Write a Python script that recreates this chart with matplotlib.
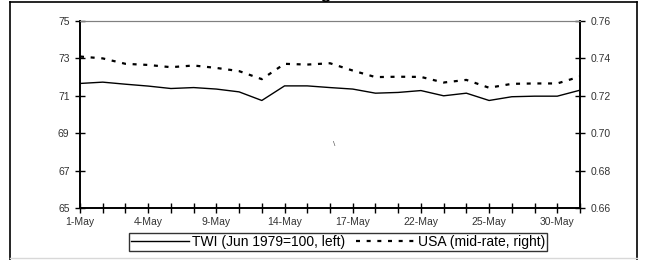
import matplotlib
matplotlib.use('Agg')
import matplotlib.pyplot as plt
from matplotlib.lines import Line2D

plt.rcParams['font.family'] = ['Liberation Sans', 'DejaVu Sans']

days = [1, 2, 3, 4, 7, 8, 9, 10, 11, 14, 15, 16, 17, 18, 21, 22, 23, 24, 25, 28, 29, 30, 31]
twi = [71.66, 71.73, 71.62, 71.52, 71.39, 71.44, 71.36, 71.21, 70.75, 71.53, 71.53, 71.44,
       71.36, 71.14, 71.18, 71.28, 71.00, 71.14, 70.75, 70.95, 70.98, 70.98, 71.30]
usa = [0.7410, 0.7400, 0.7371, 0.7365, 0.7353, 0.7362, 0.7349, 0.7332, 0.7289, 0.7371, 0.7367,
       0.7374, 0.7335, 0.7300, 0.7302, 0.7301, 0.7271, 0.7285, 0.7243, 0.7264, 0.7266, 0.7266, 0.7303]
date_labels = [f'{d}-May' for d in days]

W, H = 646, 260
fig = plt.figure(figsize=(W / 100, H / 100), dpi=100)

ax1 = fig.add_axes([80 / W, 1 - 208 / H, 500 / W, 187 / H])
x = list(range(len(days)))

dash = (0, (1.8, 3.0))

ax1.plot(x, twi, color='black', linewidth=1.0, label='TWI (Jun 1979=100, left)')
ax1.set_xlim(0, len(days) - 1)
ax1.set_ylim(65, 75)
ax1.set_yticks([65, 67, 69, 71, 73, 75])

ax2 = ax1.twinx()
ax2.plot(x, usa, color='black', linewidth=1.6, linestyle=dash,
         label='USA (mid-rate, right)')
ax2.set_ylim(0.66, 0.76)
ax2.set_yticks([0.66, 0.68, 0.70, 0.72, 0.74, 0.76])
ax2.set_yticklabels(['0.66', '0.68', '0.70', '0.72', '0.74', '0.76'])

ax1.set_xticks(x)
ax1.set_xticklabels([lab if i % 3 == 0 else '' for i, lab in enumerate(date_labels)])

for ax in (ax1, ax2):
    ax.spines['top'].set_color('#808080')
    ax.spines['top'].set_linewidth(0.8)
    for s in ('left', 'right', 'bottom'):
        ax.spines[s].set_linewidth(1.2)
    ax.tick_params(direction='inout', length=7, width=1.0, labelsize=7.5, colors='black')
ax1.tick_params(axis='x', pad=3)
ax1.tick_params(axis='y', pad=4)
ax2.tick_params(axis='y', pad=4)
for lab in ax1.get_yticklabels() + ax2.get_yticklabels() + ax1.get_xticklabels():
    lab.set_color('#333333')

handles = [Line2D([], [], color='black', linewidth=1.0),
           Line2D([], [], color='black', linewidth=1.6, linestyle=dash)]
leg = fig.legend(handles, ['TWI (Jun 1979=100, left)', 'USA (mid-rate, right)'],
                 loc='center', bbox_to_anchor=(338 / W, 1 - 242 / H), ncol=2,
                 fontsize=10, frameon=True, fancybox=False, handlelength=4.2,
                 handletextpad=0.2, columnspacing=0.8, borderpad=0.15,
                 borderaxespad=0)
leg.get_frame().set_edgecolor('black')
leg.get_frame().set_linewidth(1.0)

# outer chart border
fig.add_artist(Line2D([10 / W, 10 / W], [0, 1 - 2 / H], color='black', lw=1.2))
fig.add_artist(Line2D([637 / W, 637 / W], [0, 1 - 2 / H], color='black', lw=1.2))
fig.add_artist(Line2D([10 / W, 637 / W], [1 - 2 / H, 1 - 2 / H], color='black', lw=1.2))
fig.add_artist(Line2D([10 / W, 637 / W], [1 - 258 / H, 1 - 258 / H], color='#d8d8d8', lw=1.0))

# clipped title remnant and stray mark
fig.text(325 / W, 1 + 1 / H, 'g', fontsize=12, fontweight='bold', ha='center', va='baseline')
fig.text(334 / W, 1 - 145 / H, '\\', fontsize=6, color='#555555', ha='center', va='center')

fig.savefig('out.png', dpi=100)
